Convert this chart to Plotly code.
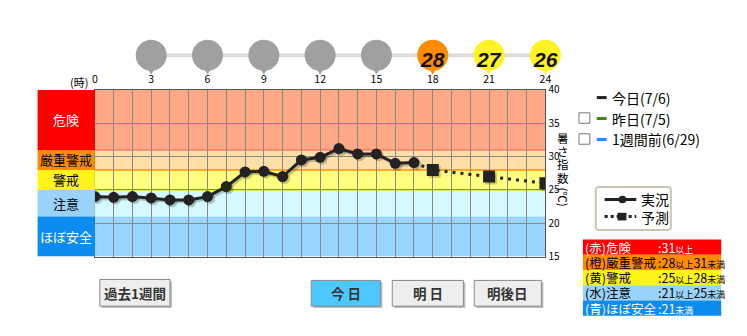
import plotly.graph_objects as go

# ---- data -------------------------------------------------------------
hours_obs = list(range(18))
wbgt_obs = [24.0, 23.9, 24.0, 23.8, 23.5, 23.5, 24.0, 25.5, 27.7, 27.8,
            27.0, 29.5, 29.9, 31.2, 30.4, 30.4, 29.0, 29.1]
hours_fc = [18, 21, 24]
wbgt_fc = [28, 27, 26]
past_pin_hours = [3, 6, 9, 12, 15]

hour_ticks = list(range(25))
hour_labels = [str(h) if h % 3 == 0 else "" for h in hour_ticks]
x_range = [0, 24]
y_ticks = [15, 20, 25, 30, 35, 40]
y_range = [15, 40]

level_names = ["危険", "厳重警戒", "警戒", "注意", "ほぼ安全"]
level_top = [40, 31, 28, 25, 21]
level_bottom = [31, 28, 25, 21, 15]
table_names = ["(赤)危険", "(橙)厳重警戒", "(黄)警戒", "(水)注意", "(青)ほぼ安全"]
SM = "<span style='font-size:9px'>{}</span>"
table_ranges = [":31" + SM.format("以上"),
                ":28" + SM.format("以上") + "31" + SM.format("未満"),
                ":25" + SM.format("以上") + "28" + SM.format("未満"),
                ":21" + SM.format("以上") + "25" + SM.format("未満"),
                ":21" + SM.format("未満")]
legend_days = ["今日(7/6)", "昨日(7/5)", "1週間前(6/29)"]
axis_title_chars = ["暑", "さ", "指", "数"]
buttons = ["過去1週間", "今 日", "明 日", "明後日"]

# ---- styles -----------------------------------------------------------
W, H = 747, 336
PX0, PX1, PY0, PY1 = 93, 549, 85, 260
FONT = "Noto Sans CJK JP"
box_colors = ["#FF0000", "#FF8C00", "#FFF31C", "#99D3FA", "#0C8CEE"]
band_colors = ["#FFA886", "#FFDFA8", "#FFFF82", "#D4FAFF", "#99D6FF"]
box_text = ["white", "black", "black", "black", "white"]
edge_colors = ["#FF7A66", "#FF8C00", "#F2E200"]
fc_pin_colors = ["#FF8C00", "#FFF324", "#FFF324"]
legend_line_colors = ["#222222", "#3C8C14", "#1E90FF"]

PLOT_W = PX1 - PX0


def px(x):
    return x / W


def py(y):
    return 1 - y / H


def xdom(hour):
    # position of an hour as a fraction of the x axis domain
    return (hour - x_range[0]) / (x_range[1] - x_range[0])


def note(x, y, text, size=13, color="black", xanchor="center", family=FONT, **kw):
    d = dict(xref="paper", yref="paper", x=px(x), y=py(y), text=text, showarrow=False,
             xanchor=xanchor, yanchor="middle",
             font=dict(family=family, size=size, color=color))
    d.update(kw)
    return d


fig = go.Figure()

# marker shadow offset (pixels -> data units)
sdx = 2 * (x_range[1] - x_range[0]) / PLOT_W
sdy = -2 * ((y_range[1] - y_range[0]) / (PY1 - PY0))
shadow = "rgba(0,0,0,0.22)"

fig.add_trace(go.Scatter(
    x=[h + sdx for h in hours_obs], y=[v + sdy for v in wbgt_obs],
    mode="lines+markers", line=dict(color=shadow, width=3),
    marker=dict(size=11, color=shadow), hoverinfo="skip", showlegend=False))
fig.add_trace(go.Scatter(
    x=[h + sdx for h in hours_fc], y=[v + sdy for v in wbgt_fc],
    mode="markers", marker=dict(size=12, symbol="square", color=shadow),
    hoverinfo="skip", showlegend=False))

# forecast dotted line (continues from the last observation)
fig.add_trace(go.Scatter(
    x=[hours_obs[-1]] + hours_fc, y=[wbgt_obs[-1]] + wbgt_fc,
    mode="lines", line=dict(color="#222222", width=3, dash="3px,5px"),
    showlegend=False))
fig.add_trace(go.Scatter(
    x=hours_fc, y=wbgt_fc, mode="markers",
    marker=dict(size=12, symbol="square", color="#222222"), showlegend=False))
# observations
fig.add_trace(go.Scatter(
    x=hours_obs, y=wbgt_obs, mode="lines+markers",
    line=dict(color="#222222", width=3),
    marker=dict(size=11, color="#222222"), showlegend=False))

shapes = []
ann = []

# background bands inside the plot
for i in range(len(level_names)):
    shapes.append(dict(type="rect", xref="x", yref="y", x0=0, x1=24,
                       y0=level_bottom[i], y1=level_top[i],
                       fillcolor=band_colors[i], line_width=0, layer="below"))
for i, c in enumerate(edge_colors):
    shapes.append(dict(type="line", xref="x", yref="y", x0=0, x1=24,
                       y0=level_bottom[i], y1=level_bottom[i],
                       line=dict(color=c, width=1.5), layer="below"))

# level boxes on the left
for i, name in enumerate(level_names):
    shapes.append(dict(type="rect", xref="paper", yref="y", x0=px(35), x1=px(PX0),
                       y0=level_bottom[i], y1=level_top[i],
                       fillcolor=box_colors[i], line_width=0))
    ann.append(dict(xref="paper", yref="y", x=px(64),
                    y=(level_bottom[i] + level_top[i]) / 2, text=name,
                    xanchor="center", yanchor="middle",
                    showarrow=False, font=dict(family=FONT, size=13, color=box_text[i])))

# pins along the top (x domain refs so nothing is clipped at the plot edge)
PIN_Y = 48.5
R = 15.5
shapes.append(dict(type="line", xref="x domain", yref="paper",
                   x0=xdom(past_pin_hours[0]), x1=xdom(24),
                   y0=py(PIN_Y), y1=py(PIN_Y), line=dict(color="#DDDDDD", width=4)))


def pin(hour, color):
    def pt(dx, dy):
        return f"{xdom(hour) + dx / PLOT_W} {py(PIN_Y + dy)}"
    stem = (f"M {pt(-5.5, 11)} L {pt(5.5, 11)} L {pt(1.4, 18)} "
            f"L {pt(0, 20.5)} L {pt(-1.4, 18)} Z")
    shapes.append(dict(type="path", xref="x domain", yref="paper", path=stem,
                       fillcolor=color, line_width=0))
    shapes.append(dict(type="circle", xref="x domain", yref="paper", xsizemode="pixel",
                       ysizemode="pixel", xanchor=xdom(hour), yanchor=py(PIN_Y),
                       x0=-R, x1=R, y0=-R, y1=R, fillcolor=color, line_width=0))


for h in past_pin_hours:
    pin(h, "#A0A0A0")
for h, v, c in zip(hours_fc, wbgt_fc, fc_pin_colors):
    pin(h, c)
    ann.append(dict(xref="x", yref="paper", x=h, y=py(53), text=f"<b><i>{v}</i></b>",
                    xanchor="center", yanchor="middle", showarrow=False,
                    font=dict(family="Liberation Sans", size=21, color="#111111")))

ann.append(note(88, 77, "(時)", size=11, xanchor="right"))

# y-axis title, written vertically
for k, ch in enumerate(axis_title_chars):
    ann.append(note(567, 135 + 14 * k, ch, size=11.5))
ann.append(note(567, 197, "(℃)", size=11.5, textangle=90))

# day legend
for i, (lab, c) in enumerate(zip(legend_days, legend_line_colors)):
    yy = 93 + 22 * i
    shapes.append(dict(type="line", xref="paper", yref="paper", x0=px(601), x1=px(611),
                       y0=py(yy), y1=py(yy), line=dict(color=c, width=3)))
    if i > 0:
        shapes.append(dict(type="rect", xref="paper", yref="paper", x0=px(583), x1=px(594),
                           y0=py(yy - 6), y1=py(yy + 5), fillcolor="white",
                           line=dict(color="#777777", width=1)))
    ann.append(note(614, yy, lab, size=14, xanchor="left"))


def rounded_rect(x0, y0, x1, y1, r):
    return (f"M {px(x0 + r)} {py(y0)} L {px(x1 - r)} {py(y0)} Q {px(x1)} {py(y0)} {px(x1)} {py(y0 + r)} "
            f"L {px(x1)} {py(y1 - r)} Q {px(x1)} {py(y1)} {px(x1 - r)} {py(y1)} "
            f"L {px(x0 + r)} {py(y1)} Q {px(x0)} {py(y1)} {px(x0)} {py(y1 - r)} "
            f"L {px(x0)} {py(y0 + r)} Q {px(x0)} {py(y0)} {px(x0 + r)} {py(y0)} Z")


# observed / forecast key
shapes.append(dict(type="path", xref="paper", yref="paper", path=rounded_rect(600, 187, 676, 232, 3),
                   fillcolor="white", line=dict(color="#C8C8B0", width=2)))
shapes.append(dict(type="line", xref="paper", yref="paper", x0=px(609), x1=px(641),
                   y0=py(200), y1=py(200), line=dict(color="#222222", width=3)))
shapes.append(dict(type="circle", xref="paper", yref="paper", x0=px(623), x1=px(631),
                   y0=py(196), y1=py(204), fillcolor="#222222", line_width=0))
shapes.append(dict(type="line", xref="paper", yref="paper", x0=px(609), x1=px(641),
                   y0=py(218), y1=py(218), line=dict(color="#222222", width=3, dash="3px,3px")))
shapes.append(dict(type="rect", xref="paper", yref="paper", x0=px(622), x1=px(631),
                   y0=py(214), y1=py(222), fillcolor="#222222", line_width=0))
ann.append(note(644, 200, "実況", size=14, xanchor="left"))
ann.append(note(644, 218, "予測", size=14, xanchor="left"))

# level table
for i in range(len(table_names)):
    y0 = 242 + 16 * i
    shapes.append(dict(type="rect", xref="paper", yref="paper", x0=px(587), x1=px(727),
                       y0=py(y0), y1=py(y0 + 16), fillcolor=box_colors[i], line_width=0))
    ann.append(note(587, y0 + 8, table_names[i], size=12.5, color=box_text[i], xanchor="left"))
    ann.append(note(661, y0 + 8, table_ranges[i], size=12.5, color=box_text[i], xanchor="left"))

# buttons
button_boxes = [(98, 284, 169, 312), (312, 285, 382, 312), (394, 285, 466, 312), (477, 285, 545, 312)]
button_fill = ["#EEEEEE", "#4DC8FF", "#EEEEEE", "#EEEEEE"]
for (x0, y0, x1, y1), lab, f in zip(button_boxes, buttons, button_fill):
    shapes.append(dict(type="rect", xref="paper", yref="paper", x0=px(x0 + 2), x1=px(x1 + 2),
                       y0=py(y0 + 2), y1=py(y1 + 2), fillcolor="#BBBBBB", line_width=0))
    shapes.append(dict(type="rect", xref="paper", yref="paper", x0=px(x0), x1=px(x1),
                       y0=py(y0), y1=py(y1), fillcolor=f, line=dict(color="#8A8A8A", width=1)))
    ann.append(note((x0 + x1) / 2, (y0 + y1) / 2, f"<b>{lab}</b>", size=13.5, color="#333333"))

fig.update_layout(
    width=W, height=H, autosize=False,
    margin=dict(l=0, r=0, t=0, b=0),
    paper_bgcolor="white", plot_bgcolor="white",
    shapes=shapes, annotations=ann, showlegend=False,
    xaxis=dict(domain=[px(PX0), px(PX1)], range=x_range, side="top",
               tickvals=hour_ticks, ticktext=hour_labels, ticks="",
               ticklabelstandoff=2,
               showgrid=True, gridcolor="#888888", gridwidth=1,
               showline=True, linecolor="#555555", linewidth=1, mirror=True,
               zeroline=False, fixedrange=True,
               tickfont=dict(family=FONT, size=10.5, color="black")),
    yaxis=dict(domain=[py(PY1), py(PY0)], range=y_range, side="right",
               tickvals=y_ticks, ticks="",
               showgrid=True, gridcolor="#888888", gridwidth=1,
               showline=True, linecolor="#555555", linewidth=1, mirror=True,
               zeroline=False, fixedrange=True,
               tickfont=dict(family=FONT, size=10, color="black")),
)

fig.write_html("out.html")
